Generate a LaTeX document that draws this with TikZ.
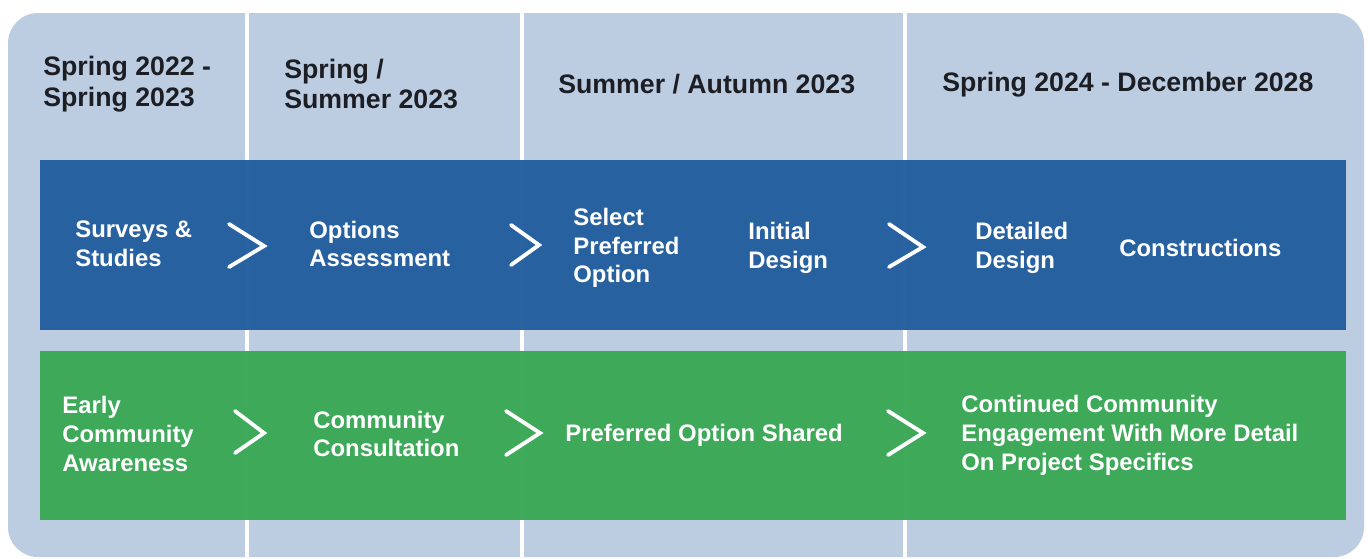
\documentclass[tikz,border=0pt]{standalone}
\usepackage{fontspec}
\setmainfont{Liberation Sans}
\usetikzlibrary{positioning}
\definecolor{panelbg}{RGB}{188,205,226}
\definecolor{bandblue}{RGB}{34,93,158}
\definecolor{bandgreen}{RGB}{56,168,84}
\definecolor{headtext}{RGB}{28,30,36}
\tikzset{
  header/.style={anchor=west, align=left, inner sep=0pt, text=headtext,
    font=\fontsize{15.2}{17.6}\selectfont\bfseries},
  stage/.style={anchor=west, align=left, inner sep=0pt, text=white,
    font=\fontsize{13.6}{16.4}\selectfont\bfseries},
  chev/.style={white, line width=2.2pt, line cap=round, line join=miter},
  divider/.style={white, line width=2.4pt}
}
\begin{document}
\begin{tikzpicture}[x=0.02cm, y=-0.02cm]
    \useasboundingbox (0,0) rectangle (1368,558);

    % panel
    \fill[panelbg, rounded corners=0.6cm] (8,13) rectangle (1364,557);

    % column dividers
    \draw[divider] (247,13) -- (247,558);
    \draw[divider] (522,13) -- (522,558);
    \draw[divider] (905,13) -- (905,558);

    % bands
    \fill[bandblue, fill opacity=0.96] (40,160) rectangle (1346,330);
    \fill[bandgreen, fill opacity=0.96] (40,351) rectangle (1346,520);

    % Headers
    \node[header] (h1) at (43,84) {Spring 2022 -\\Spring 2023};
    \node[header] (h2) at (284,84) {Spring /\\Summer 2023};
    \node[header] (h3) at (558,84) {Summer / Autumn 2023};
    \node[header] (h4) at (942,85) {Spring 2024 - December 2028};

    % Technical stages
    \node[stage] (surveys) at (75,244) {Surveys \&\\Studies};
    \node[stage] (options) at (309,244) {Options\\Assessment};
    \node[stage] (select) at (573,248) {Select\\Preferred\\Option};
    \node[stage] (initial) at (748,248) {Initial\\Design};
    \node[stage] (detailed) at (975,248) {Detailed\\Design};
    \node[stage] (construct) at (1119,248) {Constructions};

    % Community stages
    \node[stage] (early) at (62,434) {Early\\Community\\Awareness};
    \node[stage] (consult) at (313,434) {Community\\Consultation};
    \node[stage] (shared) at (565,435) {Preferred Option Shared};
    \node[stage] (continued) at (961,435) {Continued Community\\Engagement With More Detail\\On Project Specifics};

    % Chevrons
    \draw[chev] (229,224) -- (264,246) -- (229,267);
    \draw[chev] (511,225) -- (539,245) -- (511,265);
    \draw[chev] (889,224) -- (923,247) -- (889,267);
    \draw[chev] (235,411) -- (264,433) -- (235,453);
    \draw[chev] (506,411) -- (540,433) -- (506,455);
    \draw[chev] (888,411) -- (923,433) -- (888,455);

  \end{tikzpicture}
\end{document}
